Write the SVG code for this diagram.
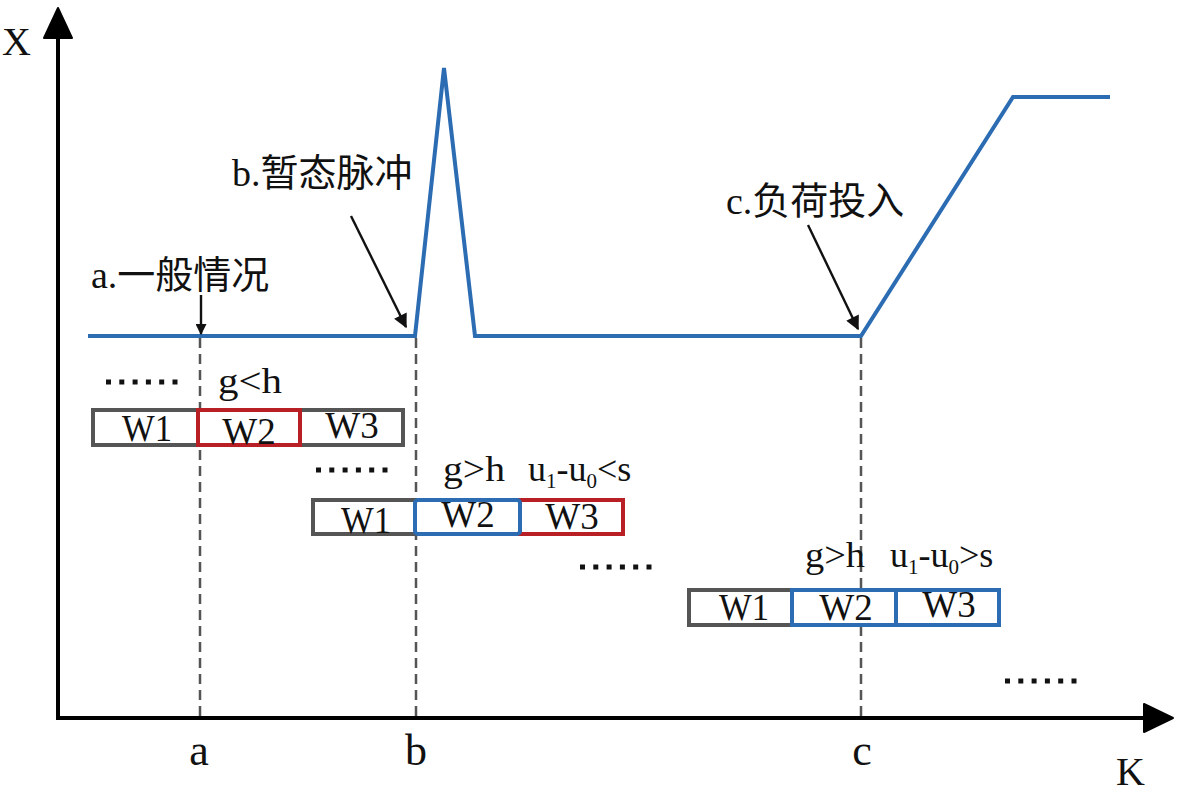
<svg xmlns="http://www.w3.org/2000/svg" width="1180" height="792" viewBox="0 0 1180 792">
<defs>
<style>
.ax{stroke:#000;stroke-width:4;fill:none}
.curve{stroke:#2b6cb3;stroke-width:4;fill:none;stroke-linejoin:miter}
.dash{stroke:#555;stroke-width:2.5;stroke-dasharray:10,6;fill:none}
.ptr{stroke:#111;stroke-width:2.4;fill:none}
.dots{stroke:#111;stroke-width:5;stroke-dasharray:5,8.3;fill:none}
.box{fill:#fff;stroke-width:4}
.g{stroke:#555}
.r{stroke:#b82025}
.b{stroke:#2b6cb3}
text{font-family:"Liberation Serif","Noto Sans CJK SC",serif;fill:#111}
.lab{font-size:38px}
.w{font-size:37px;text-anchor:middle}
.cond{font-size:36px}
.axl{font-size:40px}
.tick{font-size:44px;text-anchor:middle}
</style>
<marker id="ah" viewBox="0 0 10 10" refX="9" refY="5" markerWidth="11" markerHeight="11" markerUnits="userSpaceOnUse" orient="auto">
<path d="M0,0 L10,5 L0,10 z" fill="#111"/>
</marker>
<marker id="ah2" viewBox="0 0 10 10" refX="9" refY="5" markerWidth="15" markerHeight="14" markerUnits="userSpaceOnUse" orient="auto">
<path d="M0,0 L10,5 L0,10 z" fill="#111"/>
</marker>
</defs>
<rect width="1180" height="792" fill="#fff"/>

<g id="axes">
<line class="ax" x1="58" y1="720" x2="58" y2="34"/>
<path d="M58,8 L72,38 L44,38 z" fill="#000" stroke="#000" stroke-width="2" stroke-linejoin="round"/>
<line class="ax" x1="56" y1="718" x2="1146" y2="718"/>
<path d="M1173,718 L1144,704 L1144,732 z" fill="#000" stroke="#000" stroke-width="2" stroke-linejoin="round"/>
<text class="axl" x="2" y="55">X</text>
<text class="axl" x="1116" y="785">K</text>
<text class="tick" x="199" y="765">a</text>
<text class="tick" x="416" y="765">b</text>
<text class="tick" x="862" y="765">c</text>
</g>

<g id="connectors">
<path class="curve" d="M88,336 L415,336 L444,68 L475,336 L861,336 L1013,97 L1110,97"/>
<line class="dash" x1="200" y1="338" x2="200" y2="718"/>
<line class="dash" x1="416" y1="338" x2="416" y2="718"/>
<line class="dash" x1="861" y1="338" x2="861" y2="718"/>
<line class="ptr" x1="201" y1="295" x2="201" y2="334" marker-end="url(#ah)"/>
<line class="ptr" x1="351" y1="216" x2="406" y2="327" marker-end="url(#ah2)"/>
<line class="ptr" x1="808" y1="225" x2="858" y2="329" marker-end="url(#ah2)"/>
</g>

<g id="label-a"><text class="lab" x="91" y="288">a.一般情况</text></g>
<g id="label-b"><text class="lab" x="232" y="186">b.暂态脉冲</text></g>
<g id="label-c"><text class="lab" x="726" y="214">c.负荷投入</text></g>

<g id="row1">
<line class="dots" x1="106" y1="382" x2="180" y2="382"/>
<text class="cond" x="218" y="393" textLength="64" lengthAdjust="spacingAndGlyphs">g&lt;h</text>
<rect class="box g" x="93" y="410" width="310" height="35"/>
<rect class="box r" x="198" y="410" width="102" height="35"/>
<text class="w" x="147" y="441" textLength="50" lengthAdjust="spacingAndGlyphs">W1</text>
<text class="w" x="249" y="444">W2</text>
<text class="w" x="352" y="438">W3</text>
</g>

<g id="row2">
<line class="dots" x1="316" y1="470" x2="390" y2="470"/>
<text class="cond" x="443" y="481" textLength="62" lengthAdjust="spacingAndGlyphs">g&gt;h</text>
<text class="cond" x="528" y="481" font-size="34">u<tspan font-size="21" dy="7">1</tspan><tspan dy="-7">-u</tspan><tspan font-size="21" dy="7">0</tspan><tspan dy="-7">&lt;s</tspan></text>
<rect class="box g" x="313" y="500" width="310" height="34"/>
<rect class="box r" x="520" y="500" width="103" height="34"/>
<rect class="box b" x="415" y="500" width="105" height="34" rx="3"/>
<text class="w" x="366" y="533" textLength="50" lengthAdjust="spacingAndGlyphs">W1</text>
<text class="w" x="468" y="527">W2</text>
<text class="w" x="572" y="529">W3</text>
</g>

<g id="row3">
<line class="dots" x1="580" y1="567" x2="654" y2="567"/>
<text class="cond" x="805" y="567" textLength="60" lengthAdjust="spacingAndGlyphs">g&gt;h</text>
<text class="cond" x="890" y="567" font-size="34">u<tspan font-size="21" dy="7">1</tspan><tspan dy="-7">-u</tspan><tspan font-size="21" dy="7">0</tspan><tspan dy="-7">&gt;s</tspan></text>
<rect class="box g" x="689" y="590" width="310" height="35"/>
<rect class="box b" x="792" y="590" width="207" height="35"/>
<line class="b" x1="896" y1="590" x2="896" y2="625" stroke-width="4"/>
<text class="w" x="744" y="620" textLength="50" lengthAdjust="spacingAndGlyphs">W1</text>
<text class="w" x="846" y="620">W2</text>
<text class="w" x="949" y="617">W3</text>
</g>

<g id="dots-end">
<line class="dots" x1="1005" y1="681" x2="1080" y2="681"/>
</g>
</svg>
